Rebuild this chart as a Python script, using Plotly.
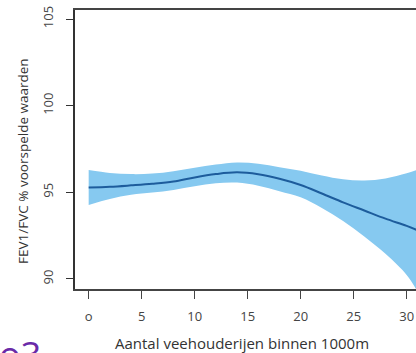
import plotly.graph_objects as go

# Data
x_vals = [0, 2, 4, 6, 8, 10, 12, 14, 16, 18, 20, 22, 24, 26, 28, 30, 31]
fit = [95.27, 95.32, 95.40, 95.49, 95.62, 95.86, 96.05, 96.15, 96.04, 95.78,
       95.42, 94.93, 94.42, 93.95, 93.48, 93.06, 92.82]
upper = [96.29, 96.12, 96.05, 96.08, 96.22, 96.41, 96.60, 96.72, 96.65, 96.45,
         96.25, 95.97, 95.75, 95.68, 95.80, 96.10, 96.30]
lower = [94.27, 94.62, 94.86, 94.99, 95.14, 95.35, 95.52, 95.56, 95.38, 95.06,
         94.71, 94.10, 93.35, 92.45, 91.45, 90.23, 89.30]

x_ticks = [0, 5, 10, 15, 20, 25, 30]
x_tick_labels = ["o", "5", "10", "15", "20", "25", "30"]
y_ticks = [90, 95, 100, 105]
y_tick_labels = ["90", "95", "100", "105"]

x_title = "Aantal veehouderijen binnen 1000m"
y_title = "FEV1/FVC % voorspelde waarden"

band_color = "#86c9f0"
line_color = "#1d5c9c"
font_family = "Open Sans"

fig = go.Figure()
fig.add_trace(go.Scatter(x=x_vals, y=upper, mode="lines", line=dict(width=0, shape="spline"),
                         hoverinfo="skip", showlegend=False))
fig.add_trace(go.Scatter(x=x_vals, y=lower, mode="lines", line=dict(width=0, shape="spline"),
                         fill="tonexty", fillcolor=band_color, hoverinfo="skip", showlegend=False))
fig.add_trace(go.Scatter(x=x_vals, y=fit, mode="lines",
                         line=dict(color=line_color, width=2, shape="spline"), showlegend=False))

fig.update_layout(
    width=416, height=353,
    margin=dict(l=75, r=0, t=10, b=64),
    paper_bgcolor="white", plot_bgcolor="white",
    font=dict(family=font_family, color="#444"),
    xaxis=dict(range=[-1.29, 30.88], tickvals=x_ticks, ticktext=x_tick_labels,
               showgrid=False, zeroline=False, showline=True, mirror=True,
               linecolor="#444", linewidth=1.5, ticks="outside", ticklen=8,
               tickcolor="#444", tickwidth=1.3, tickfont=dict(size=13, color="#444"),
               ticklabelstandoff=7),
    yaxis=dict(range=[89.42, 105.52], tickvals=y_ticks, ticktext=y_tick_labels,
               showgrid=False, zeroline=False, showline=True, mirror=False,
               linecolor="#333", linewidth=1.5, ticks="outside", ticklen=7,
               tickcolor="#333", tickwidth=1.3, tickangle=-90,
               tickfont=dict(size=13, color="#444"), ticklabelstandoff=8),
    annotations=[
        dict(text=x_title, xref="paper", yref="paper", x=0.49, y=-0.193,
             xanchor="center", yanchor="middle", showarrow=False,
             font=dict(size=15, color="#333")),
        dict(text=y_title, xref="paper", yref="paper", x=-0.1525, y=0.459,
             xanchor="center", yanchor="middle", textangle=-90, showarrow=False,
             font=dict(size=13.5, color="#333")),
        dict(text="o3", xref="paper", yref="paper", x=-0.23, y=-0.14,
             xanchor="left", yanchor="top", showarrow=False,
             font=dict(size=36, color="#6a2aa8")),
    ],
)

fig.write_html("out.html")
